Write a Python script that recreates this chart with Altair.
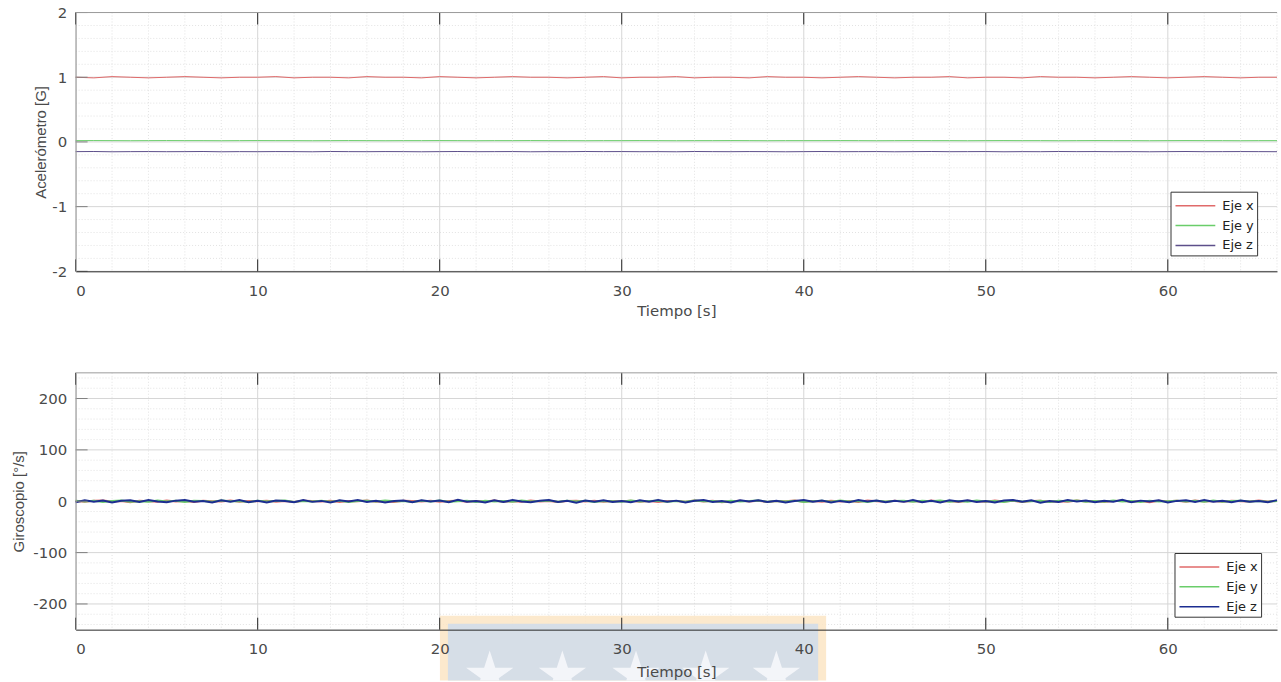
import altair as alt
import pandas as pd

# Accelerometer time base (s)
tiempo = list(range(67))

# Accelerometer [G]
acc_x = [1.00, 0.99, 1.01, 1.00, 0.99, 1.00, 1.01, 1.00, 0.99, 1.00,
         1.00, 1.01, 0.99, 1.00, 1.00, 0.99, 1.01, 1.00, 1.00, 0.99,
         1.01, 1.00, 0.99, 1.00, 1.01, 1.00, 1.00, 0.99, 1.00, 1.01,
         0.99, 1.00, 1.00, 1.01, 0.99, 1.00, 1.00, 0.99, 1.01, 1.00,
         1.00, 0.99, 1.00, 1.01, 1.00, 0.99, 1.00, 1.00, 1.01, 0.99,
         1.00, 1.00, 0.99, 1.01, 1.00, 1.00, 0.99, 1.00, 1.01, 1.00,
         0.99, 1.00, 1.01, 1.00, 0.99, 1.00, 1.00]
acc_y = [0.020, 0.021, 0.020, 0.019, 0.020, 0.021, 0.020, 0.020, 0.019, 0.020,
         0.021, 0.020, 0.020, 0.019, 0.020, 0.021, 0.020, 0.019, 0.020, 0.020,
         0.021, 0.020, 0.019, 0.020, 0.020, 0.021, 0.020, 0.020, 0.019, 0.020,
         0.020, 0.021, 0.020, 0.019, 0.020, 0.020, 0.021, 0.020, 0.019, 0.020,
         0.020, 0.020, 0.021, 0.020, 0.019, 0.020, 0.021, 0.020, 0.020, 0.019,
         0.020, 0.021, 0.020, 0.020, 0.019, 0.020, 0.021, 0.020, 0.020, 0.019,
         0.020, 0.021, 0.020, 0.020, 0.019, 0.020, 0.020]
acc_z = [-0.150, -0.148, -0.152, -0.150, -0.149, -0.151, -0.150, -0.148, -0.152, -0.150,
         -0.151, -0.149, -0.150, -0.152, -0.148, -0.150, -0.151, -0.149, -0.150, -0.152,
         -0.150, -0.148, -0.151, -0.150, -0.149, -0.152, -0.150, -0.151, -0.148, -0.150,
         -0.149, -0.151, -0.150, -0.152, -0.148, -0.150, -0.151, -0.149, -0.150, -0.152,
         -0.150, -0.148, -0.151, -0.150, -0.149, -0.152, -0.150, -0.148, -0.151, -0.150,
         -0.149, -0.152, -0.150, -0.151, -0.148, -0.150, -0.149, -0.151, -0.150, -0.152,
         -0.150, -0.148, -0.151, -0.150, -0.149, -0.150, -0.151]

# Gyroscope time base (s), half-second samples
tiempo_g = [i / 2 for i in range(133)]

# Gyroscope [deg/s]
gyr_x = [0.5, -1.2, 0.8, 1.5, -0.6, 0.3, -1.8, 1.1, 0.2, -0.9,
         1.3, -0.4, 0.7, -1.5, 0.9, 0.1, -0.7, 1.6, -1.1, 0.4,
         -0.2, 1.2, -0.8, 0.6, -1.4, 0.9, 0.3, -0.5, 1.0, -1.3,
         0.7, -0.1, 1.4, -0.9, 0.2, -1.6, 0.8, 0.5, -0.7, 1.1,
         -1.0, 0.3, 0.9, -1.2, 0.6, -0.4, 1.5, -0.8, 0.2, -1.1,
         1.3, -0.3, 0.7, -1.4, 0.4, 1.0, -0.6, 0.8, -1.2, 0.5,
         -0.2, 1.1, -0.9, 0.6, -1.5, 0.3, 0.7, -1.0, 1.4, -0.4,
         0.8, -1.7, 0.2, 1.2, -0.6, 0.9, -1.3, 0.5, -0.1, 1.6,
         -0.8, 0.4, -1.1, 1.0, -0.3, 0.7, -1.5, 1.3, 0.1, -0.9,
         1.1, -0.5, 0.6, -1.2, 1.5, -0.7, 0.3, -1.4, 0.9, 0.2,
         -1.0, 1.3, -0.4, 0.8, -1.6, 0.5, 1.2, -0.8, 0.1, -1.1,
         1.4, -0.6, 0.7, -1.3, 0.3, 1.0, -0.9, 0.6, -1.7, 1.1,
         -0.2, 0.8, -1.0, 1.5, -0.5, 0.4, -1.2, 0.9, 0.2, -0.7,
         1.3, -0.4, 0.6]
gyr_y = [1.2, -0.5, 0.9, -1.3, 0.4, 1.6, -0.8, 0.2, -1.0, 1.4,
         -0.3, 0.8, -1.6, 1.0, 0.5, -0.9, 1.3, -0.2, 0.7, -1.4,
         1.1, -0.6, 0.3, 1.5, -1.2, 0.6, -0.4, 1.2, -0.8, 0.9,
         -1.5, 0.4, 1.0, -0.7, 1.3, -0.1, 0.6, -1.3, 0.8, -0.5,
         1.4, -1.0, 0.2, 0.9, -1.4, 1.1, -0.3, 0.5, -0.9, 1.6,
         -0.7, 0.3, 1.2, -1.1, 0.8, -0.4, 1.0, -1.5, 0.6, 0.2,
         -0.8, 1.3, -0.6, 0.4, 1.1, -1.2, 0.5, -0.9, 1.4, -0.2,
         0.7, -1.3, 1.0, -0.5, 0.3, 1.5, -1.1, 0.6, -0.7, 1.2,
         -1.4, 0.2, 0.9, -0.8, 1.3, -0.3, 0.5, -1.6, 1.1, -0.6,
         0.4, 1.0, -1.2, 0.8, -0.1, 1.4, -0.9, 0.3, -1.0, 1.6,
         -0.4, 0.7, -1.3, 1.2, -0.6, 0.2, 1.1, -1.5, 0.9, -0.2,
         1.3, -0.8, 0.5, -1.1, 1.5, -0.3, 0.6, -1.4, 1.0, -0.7,
         0.2, 1.2, -0.5, 0.8, -1.2, 1.4, -0.9, 0.4, 1.1, -0.6,
         0.3, -1.0, 0.7]
gyr_z = [-1.8, 2.1, -0.9, 1.4, -2.3, 0.8, 1.9, -1.5, 2.4, -0.6,
         -2.0, 1.2, 2.6, -1.1, 0.5, -2.4, 1.7, -0.8, 2.2, -1.9,
         0.9, -2.6, 1.5, 0.3, -1.7, 2.5, -1.2, 0.7, -2.2, 1.8,
         -0.4, 2.3, -1.6, 1.0, -2.5, 0.6, 1.6, -2.1, 2.0, -0.7,
         1.3, -1.8, 2.7, -1.0, 0.4, -2.3, 1.9, -1.4, 2.2, -0.5,
         -1.9, 1.1, 2.4, -1.6, 0.8, -2.7, 1.5, -0.9, 2.1, -1.3,
         0.6, -2.0, 1.7, -1.1, 2.3, -0.8, 1.2, -2.2, 0.9, 2.5,
         -1.4, 0.3, -2.6, 1.8, -0.7, 2.0, -1.5, 1.1, -2.3, 0.5,
         2.2, -1.0, 1.6, -2.4, 0.7, -1.7, 2.6, -0.3, 1.4, -2.1,
         0.8, -1.2, 2.3, -1.8, 1.0, -2.5, 1.7, -0.6, 2.1, -1.6,
         0.4, -2.2, 1.3, 2.4, -0.9, 1.9, -2.7, 0.6, -1.3, 2.2,
         -0.5, 1.5, -2.0, 0.9, -1.1, 2.7, -1.9, 1.2, -0.4, 2.0,
         -2.4, 0.7, 1.8, -1.5, 2.3, -0.8, 1.1, -2.1, 1.6, -1.0,
         0.5, -1.7, 2.2]

ejes = ["Eje x", "Eje y", "Eje z"]
colores_acc = ["#e06a6a", "#6acd6a", "#5d4f8a"]
colores_gyr = ["#e06a6a", "#6acd6a", "#1c2d91"]

# Grid / tick positions
x_major = [0, 10, 20, 30, 40, 50, 60]
x_minor = [2, 4, 6, 8, 12, 14, 16, 18, 22, 24, 26, 28, 32, 34, 36, 38,
           42, 44, 46, 48, 52, 54, 56, 58, 62, 64, 66]
acc_major = [-2, -1, 0, 1, 2]
acc_minor = [-1.8, -1.6, -1.4, -1.2, -0.8, -0.6, -0.4, -0.2,
             0.2, 0.4, 0.6, 0.8, 1.2, 1.4, 1.6, 1.8]
gyr_major = [-200, -100, 0, 100, 200]
gyr_minor = [-240, -220, -180, -160, -140, -120, -80, -60, -40, -20,
             20, 40, 60, 80, 120, 140, 160, 180, 220, 240]

FONT = "DejaVu Sans"
FONT_V = "Liberation Sans"
TXT = "#4a4a4a"
W = 1207

# Five-pointed star, cut flat near its lower arms (watermark emblem)
ESTRELLA = ("M0,-1 L0.2245,-0.309 L0.951,-0.309 L0.363,0.118 L0.39,0.2 "
            "L-0.39,0.2 L-0.363,0.118 L-0.951,-0.309 L-0.2245,-0.309 Z")


def tabla(t_base, series):
    filas = []
    for eje, valores in zip(ejes, series):
        for t, v in zip(t_base, valores):
            filas.append({"t": t, "v": v, "eje": eje})
    return pd.DataFrame(filas)


def marca_agua(alto):
    # Institutional watermark printed across the lower margin
    borde = alt.Chart(pd.DataFrame({"g": [0]})).mark_rect(
        color="#fce5c4", opacity=0.85).encode(
        x=alt.value(366), x2=alt.value(754),
        y=alt.value(alto - 14), y2=alt.value(alto + 51))
    fondo = alt.Chart(pd.DataFrame({"g": [0]})).mark_rect(
        color="#d3dce9", opacity=0.92).encode(
        x=alt.value(374), x2=alt.value(746),
        y=alt.value(alto - 6), y2=alt.value(alto + 51))
    capas = [borde, fondo]
    for cx in [416, 489, 563, 633, 704]:
        capas.append(alt.Chart(pd.DataFrame({"g": [0]})).mark_point(
            shape=ESTRELLA, filled=True, color="#f4f6fa", opacity=0.95,
            size=2500, strokeWidth=0).encode(
            x=alt.value(cx), y=alt.value(alto + 46)))
    return capas


def panel(t_base, series, colores, dom, y_major, y_minor, titulo_y, alto,
          title_pad, x_title_pad, legend_x, legend_y, grosor,
          con_marca=False):
    xs = alt.Scale(domain=[0, 66], nice=False, zero=False)
    ys = alt.Scale(domain=dom, nice=False, zero=False)

    # one axis definition per channel, shared by every layer
    ax_x = alt.Axis(
        values=x_major, title="Tiempo [s]", tickSize=0, grid=False,
        labelPadding=12, domainColor="#262626", domainWidth=1,
        labelFont=FONT, labelFontSize=15, labelColor=TXT,
        titleFont=FONT, titleFontSize=15, titleColor=TXT,
        titleFontWeight="normal", titlePadding=x_title_pad, zindex=1)
    ax_y = alt.Axis(
        values=y_major, title=titulo_y, tickSize=0, grid=False,
        labelPadding=9, domainColor="#9a9a9a", domainWidth=1,
        labelExpr="'' + datum.value",
        labelFont=FONT, labelFontSize=15, labelColor=TXT,
        titleFont=FONT_V, titleFontSize=15, titleColor=TXT,
        titleFontWeight="normal", titlePadding=title_pad, zindex=1)

    def X(campo):
        return alt.X(campo, scale=xs, axis=ax_x)

    def Y(campo):
        return alt.Y(campo, scale=ys, axis=ax_y)

    def df(vals):
        return pd.DataFrame({"g": vals})

    grid_x_minor = alt.Chart(df(x_minor)).mark_rule(
        color="#e2e2e2", strokeDash=[1, 2]).encode(x=X("g:Q"))
    grid_x_major = alt.Chart(df(x_major)).mark_rule(
        color="#d6d6d6").encode(x=X("g:Q"))
    grid_y_minor = alt.Chart(df(y_minor)).mark_rule(
        color="#e2e2e2", strokeDash=[1, 2]).encode(y=Y("g:Q"))
    grid_y_major = alt.Chart(df(y_major)).mark_rule(
        color="#d6d6d6").encode(y=Y("g:Q"))

    lineas = alt.Chart(tabla(t_base, series)).mark_line(
        strokeWidth=grosor).encode(
        x=X("t:Q"),
        y=Y("v:Q"),
        color=alt.Color("eje:N", scale=alt.Scale(domain=ejes, range=colores),
                        legend=alt.Legend(
                            title=None, orient="none",
                            legendX=legend_x, legendY=legend_y,
                            symbolType="M-2,0H2", symbolSize=400,
                            symbolStrokeWidth=1.5, symbolOffset=11,
                            labelFont=FONT, labelFontSize=13,
                            labelColor="#222222", labelOffset=16,
                            strokeColor="#333333", fillColor="white",
                            padding=3, rowPadding=2)),
        order=alt.Order("eje:N"),
    )

    tick_bottom = alt.Chart(df(x_major)).mark_rule(color="#262626").encode(
        x=X("g:Q"), y=alt.value(alto), y2=alt.value(alto - 12))
    tick_top = alt.Chart(df(x_major)).mark_rule(color="#262626").encode(
        x=X("g:Q"), y=alt.value(0), y2=alt.value(12))
    tick_left = alt.Chart(df(y_major)).mark_rule(color="#808080").encode(
        y=Y("g:Q"), x=alt.value(0), x2=alt.value(12))
    borde_sup = alt.Chart(df([0])).mark_rule(color="#9a9a9a").encode(
        x=alt.value(0), x2=alt.value(W), y=alt.value(0))

    capas = [grid_x_minor, grid_y_minor, grid_x_major, grid_y_major, lineas]
    if con_marca:
        capas += marca_agua(alto)
    capas += [tick_bottom, tick_top, tick_left, borde_sup]
    return alt.layer(*capas).properties(width=W, height=alto)


arriba = panel(tiempo, [acc_x, acc_y, acc_z], colores_acc, [-2, 2],
               acc_major, acc_minor, "Acelerómetro [G]", 260, 3, 5,
               1100, 180, 1)
abajo = panel(tiempo_g, [gyr_x, gyr_y, gyr_z], colores_gyr, [-250, 250],
              gyr_major, gyr_minor, "Giroscopio [°/s]", 258, 6, 8,
              1104, 181, 2, con_marca=True)

chart = alt.vconcat(arriba, abajo, spacing=54).resolve_scale(
    color="independent"
).properties(
    padding={"left": 11, "top": 4, "right": 0, "bottom": 0},
    background="white",
).configure_view(stroke=None)

chart.save("out.html", embed_options={"renderer": "svg", "actions": False})
